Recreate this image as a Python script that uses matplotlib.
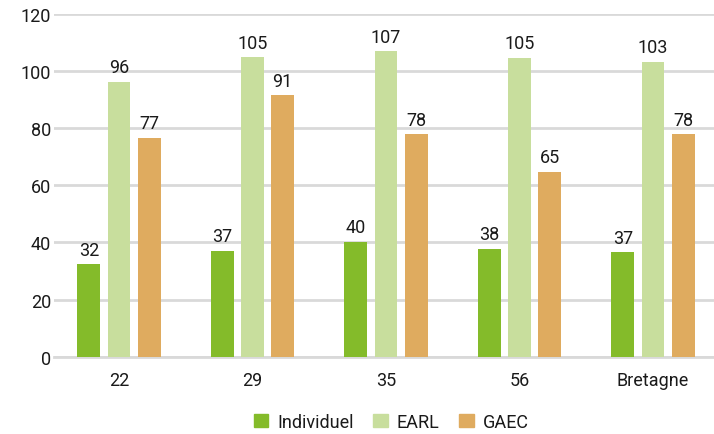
import numpy as np
import matplotlib
matplotlib.use("Agg")
import matplotlib.pyplot as plt
from matplotlib.patches import Patch

# ── Données ──────────────────────────────────────────────────────────────────
categories = ["22", "29", "35", "56", "Bretagne"]
individuel = [32.4, 37.0, 40.3, 37.8, 36.6]
earl       = [96.2, 104.7, 106.9, 104.6, 103.2]
gaec       = [76.6, 91.4, 77.8, 64.6, 77.8]
series_names = ["Individuel", "EARL", "GAEC"]
y_ticks = [0, 20, 40, 60, 80, 100, 120]

# ── Style ────────────────────────────────────────────────────────────────────
C_IND  = "#84bb2a"
C_EARL = "#c8de9d"
C_GAEC = "#dfab5f"
GRID   = "#d9d9d9"
TEXT   = "#1a1a1a"
FS     = 13

plt.rcParams["font.family"] = ["Roboto", "DejaVu Sans"]

fig = plt.figure(figsize=(7.14, 4.35), dpi=100)
ax = fig.add_axes([0.0756, 0.1777, 0.9244, 0.7885])

x = np.arange(len(categories))
w = 0.172
step = 0.226

b1 = ax.bar(x - step, individuel, w, color=C_IND, zorder=3)
b2 = ax.bar(x, earl, w, color=C_EARL, zorder=3)
b3 = ax.bar(x + step, gaec, w, color=C_GAEC, zorder=3)

for bars in (b1, b2, b3):
    ax.bar_label(bars, fmt="%.0f", padding=4, fontsize=FS, color=TEXT)

ax.set_xlim(-0.487, 4.457)
ax.set_ylim(0, 120)
ax.set_yticks(y_ticks)
ax.set_xticks(x)
ax.set_xticklabels(categories)

ax.grid(axis="y", color=GRID, lw=2, zorder=0)
ax.set_axisbelow(True)
for s in ("top", "right", "left"):
    ax.spines[s].set_visible(False)
ax.spines["bottom"].set_color(GRID)
ax.spines["bottom"].set_linewidth(2)
ax.tick_params(axis="both", length=0, labelsize=FS, colors=TEXT)
ax.tick_params(axis="y", pad=2)
ax.tick_params(axis="x", pad=10)

handles = [Patch(color=c) for c in (C_IND, C_EARL, C_GAEC)]
fig.legend(handles, series_names, loc="center", bbox_to_anchor=(0.548, 0.028),
           ncol=3, frameon=False, fontsize=FS, handlelength=0.8, handleheight=0.8,
           handletextpad=0.5, columnspacing=1.1, labelcolor=TEXT)

fig.savefig("out.png", dpi=100)
